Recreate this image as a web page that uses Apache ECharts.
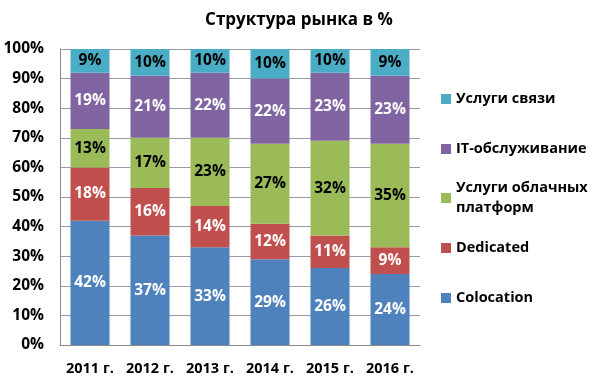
<!DOCTYPE html>
<html>
<head>
<meta charset="utf-8">
<script src="https://cdn.jsdelivr.net/npm/echarts@6/dist/echarts.min.js"></script>
<style>html,body{margin:0;padding:0;background:#fff}#c{width:598px;height:384px}</style>
</head>
<body>
<div id="c"></div>
<script>
const categories = ['2011 г.', '2012 г.', '2013 г.', '2014 г.', '2015 г.', '2016 г.'];
const colocation = [42, 37, 33, 29, 26, 24];
const dedicated = [18, 16, 14, 12, 11, 9];
const cloud = [13, 17, 23, 27, 32, 35];
const itService = [19, 21, 22, 22, 23, 23];
const telecom = [9, 10, 10, 10, 10, 9];
const yTicks = [0, 10, 20, 30, 40, 50, 60, 70, 80, 90, 100];

const FONT = 'Open Sans';
const chart = echarts.init(document.getElementById('c'));

function ser(name, data, color, labelColor) {
  return {
    name: name, type: 'bar', stack: 'total', data: data, barWidth: '65%',
    itemStyle: { color: color },
    label: { show: true, position: 'inside', formatter: '{c}%', color: labelColor,
      fontFamily: FONT, fontWeight: 'bold', fontSize: 15.5 }
  };
}

const legText = { fontFamily: FONT, fontWeight: 'bold', fontSize: 14.5, color: '#000', lineHeight: 20 };

function leg(name, top, text, extra) {
  return Object.assign({
    data: [name], left: 441, top: top, orient: 'vertical', padding: 0,
    itemWidth: 10, itemHeight: 10, itemGap: 0, icon: 'rect',
    selectedMode: false,
    formatter: text ? function () { return text; } : undefined,
    textStyle: legText
  }, extra || {});
}

chart.setOption({
  animation: false,
  title: { text: 'Структура рынка в %', left: 'center', top: 7,
    textStyle: { fontFamily: FONT, fontWeight: 'bold', fontSize: 17, color: '#000' } },
  grid: { left: 60, right: 178, top: 49, bottom: 39, containLabel: false },
  legend: [
    leg('Услуги связи', 89),
    leg('IT-обслуживание', 139),
    leg('Услуги облачных платформ', 168, 'Услуги облачных\nплатформ',
      { textStyle: Object.assign({}, legText, { padding: [20, 0, 0, 0] }) }),
    leg('Dedicated', 238),
    leg('Colocation', 288)
  ],
  xAxis: {
    type: 'category', data: categories,
    axisLine: { lineStyle: { color: '#888' } },
    axisTick: { show: false },
    axisLabel: { interval: 0, fontFamily: FONT, fontWeight: 'bold', fontSize: 14.5, color: '#000', margin: 16 }
  },
  yAxis: {
    type: 'value', min: yTicks[0], max: yTicks[yTicks.length - 1], interval: yTicks[1] - yTicks[0],
    axisLine: { show: true, lineStyle: { color: '#888' } },
    axisTick: { show: false },
    splitLine: { lineStyle: { color: '#9a9aa8' } },
    axisLabel: { formatter: '{value}%', fontFamily: FONT, fontWeight: 'bold', fontSize: 15.5, color: '#000', margin: 16 }
  },
  series: [
    ser('Colocation', colocation, '#4f81bd', '#fff'),
    ser('Dedicated', dedicated, '#c0504d', '#fff'),
    ser('Услуги облачных платформ', cloud, '#9bbb59', '#000'),
    ser('IT-обслуживание', itService, '#8064a2', '#fff'),
    ser('Услуги связи', telecom, '#4bacc6', '#000')
  ]
});
</script>
</body>
</html>
